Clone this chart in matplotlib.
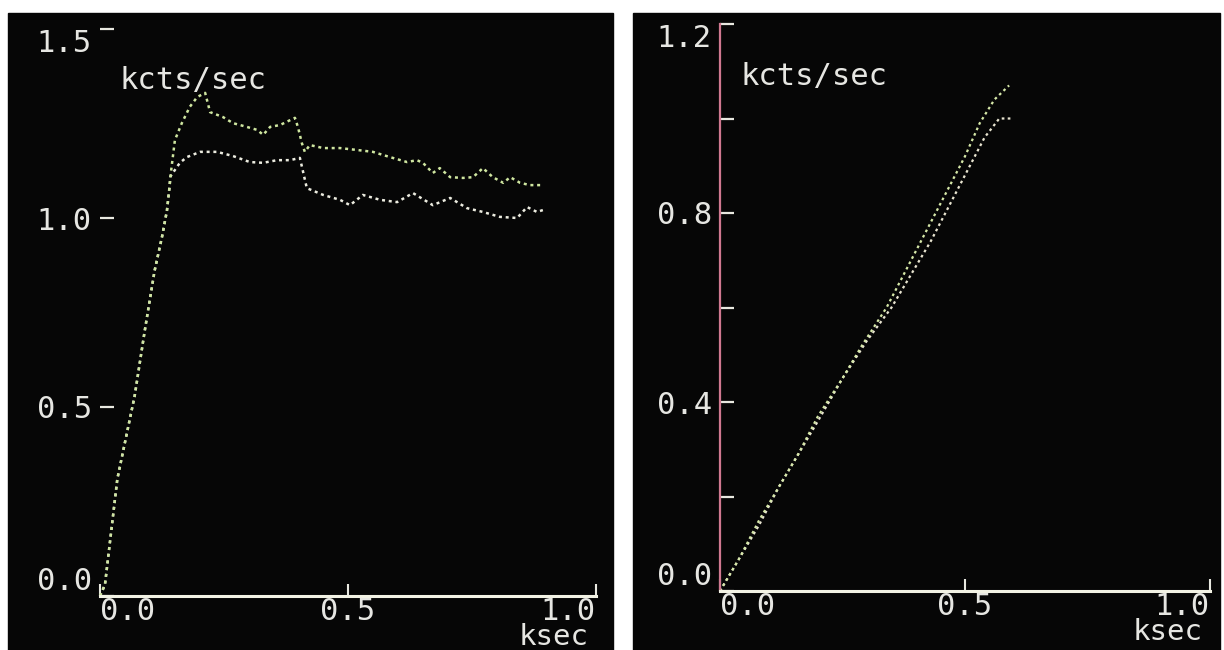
import matplotlib
matplotlib.use("Agg")
import matplotlib.pyplot as plt
from matplotlib.patches import Rectangle

# ---------------- data ----------------
# Left panel: two count-rate traces (kcts/sec vs ksec)
left_upper_x = [0.0, 0.01, 0.035, 0.07, 0.09, 0.11, 0.125, 0.135, 0.14, 0.142,
                0.151, 0.165, 0.181, 0.196, 0.212, 0.222, 0.248, 0.268, 0.296,
                0.317, 0.329, 0.343, 0.363, 0.393, 0.399, 0.407, 0.413, 0.423,
                0.450, 0.484, 0.518, 0.550, 0.585, 0.619, 0.639, 0.651, 0.671,
                0.685, 0.706, 0.732, 0.752, 0.772, 0.792, 0.813, 0.827, 0.847,
                0.867, 0.893]
left_upper_y = [0.0, 0.03, 0.31, 0.53, 0.70, 0.86, 0.95, 1.02, 1.08, 1.11,
                1.206, 1.251, 1.294, 1.320, 1.331, 1.280, 1.267, 1.251, 1.241,
                1.233, 1.220, 1.241, 1.246, 1.265, 1.241, 1.198, 1.175, 1.193,
                1.185, 1.185, 1.180, 1.175, 1.161, 1.148, 1.153, 1.146, 1.119,
                1.132, 1.108, 1.106, 1.108, 1.132, 1.108, 1.093, 1.108, 1.093,
                1.087, 1.087]

left_lower_x = [0.0, 0.01, 0.035, 0.07, 0.09, 0.11, 0.125, 0.135, 0.14, 0.142,
                0.161, 0.175, 0.202, 0.236, 0.268, 0.302, 0.329, 0.357, 0.383,
                0.403, 0.417, 0.450, 0.484, 0.504, 0.530, 0.565, 0.599, 0.631,
                0.671, 0.706, 0.740, 0.772, 0.806, 0.841, 0.861, 0.881, 0.893]
left_lower_y = [0.0, 0.03, 0.31, 0.53, 0.70, 0.86, 0.95, 1.02, 1.08, 1.11,
                1.146, 1.161, 1.175, 1.175, 1.164, 1.148, 1.146, 1.153, 1.153,
                1.159, 1.079, 1.061, 1.048, 1.034, 1.061, 1.048, 1.042, 1.066,
                1.034, 1.053, 1.026, 1.016, 1.003, 1.000, 1.029, 1.016, 1.021]

# Right panel: two nearly coincident rising traces
right_a_x = [0.0, 0.04, 0.08, 0.12, 0.16, 0.20, 0.25, 0.29, 0.34, 0.38,
             0.42, 0.46, 0.50, 0.53, 0.56, 0.59]
right_a_y = [0.0, 0.07, 0.15, 0.22, 0.29, 0.37, 0.45, 0.52, 0.60, 0.68,
             0.76, 0.84, 0.92, 0.99, 1.04, 1.07]
right_b_x = [0.0, 0.04, 0.08, 0.12, 0.16, 0.20, 0.25, 0.30, 0.35, 0.39,
             0.43, 0.47, 0.51, 0.54, 0.57, 0.595]
right_b_y = [0.0, 0.07, 0.14, 0.22, 0.29, 0.36, 0.45, 0.53, 0.60, 0.67,
             0.74, 0.82, 0.90, 0.96, 1.00, 1.00]

x_ticks = [0.0, 0.5, 1.0]
x_tick_labels = ["0.0", "0.5", "1.0"]
left_y_ticks = [0.0, 0.5, 1.0, 1.5]
left_y_labels = ["0.0", "0.5", "1.0", "1.5"]
right_y_ticks = [0.0, 0.4, 0.8, 1.2]
right_y_labels = ["0.0", "0.4", "0.8", "1.2"]
right_y_minor = [0.2, 0.6, 1.0]
y_unit = "kcts/sec"
x_unit = "ksec"

# ---------------- style ----------------
W, H = 1224, 650
FONT = "DejaVu Sans Mono"
FS = 22
TXT = "#e6e6e2"
BG = "#060606"
DOT = (0, (1.2, 1.5))

fig = plt.figure(figsize=(W / 100, H / 100), dpi=100)
fig.patch.set_facecolor("white")

# black display panels (behind the axes)
fig.patches.append(Rectangle((8 / W, 0), (613 - 8) / W, (650 - 13) / H,
                             transform=fig.transFigure, color=BG, zorder=-10))
fig.patches.append(Rectangle((633 / W, 0), (1220 - 633) / W, (650 - 13) / H,
                             transform=fig.transFigure, color=BG, zorder=-10))

ax1 = fig.add_axes([100 / W, (650 - 596) / H, 496 / W, 567 / H])
ax2 = fig.add_axes([720 / W, (650 - 591) / H, 490 / W, 567 / H])


def style_axes(ax, ylim, yticks, ylabels, ycolor, show_yspine):
    ax.set_facecolor("none")
    ax.set_xlim(0, 1)
    ax.set_ylim(*ylim)
    for s in ("top", "right"):
        ax.spines[s].set_visible(False)
    ax.spines["bottom"].set_color("#f2f2e4")
    ax.spines["bottom"].set_linewidth(2.2)
    ax.spines["left"].set_visible(show_yspine)
    ax.spines["left"].set_color(ycolor)
    ax.spines["left"].set_linewidth(1.6)

    ax.set_xticks(x_ticks, x_tick_labels)
    ax.set_yticks(yticks, ylabels)
    ax.tick_params(axis="x", direction="in", length=9, width=1.5,
                   color="#e8e8e0", pad=1, labelsize=FS, labelcolor=TXT)
    ax.tick_params(axis="y", direction="in", length=10, width=1.6,
                   color="#e8e8e0", pad=6, labelsize=FS, labelcolor=TXT)
    for lab in ax.get_xticklabels() + ax.get_yticklabels():
        lab.set_fontfamily(FONT)
    xl = ax.get_xticklabels()
    xl[0].set_ha("left")
    xl[1].set_ha("center")
    xl[2].set_ha("right")
    yl = ax.get_yticklabels()
    yl[0].set_va("bottom")
    yl[-1].set_va("top")


style_axes(ax1, (0, 1.5), left_y_ticks, left_y_labels, BG, False)
style_axes(ax2, (0, 1.2), right_y_ticks, right_y_labels, "#d07890", True)
ax2.set_yticks(right_y_minor, minor=True)
ax2.tick_params(axis="y", which="minor", direction="in", length=10,
                width=1.6, color="#e8e8e0")

# traces (greenish trace drawn last so the shared rise looks green)
ax1.plot(left_lower_x, left_lower_y, color="#ecece0", lw=1.8, ls=DOT,
         clip_on=False)
ax1.plot(left_upper_x, left_upper_y, color="#cfe6a0", lw=1.8, ls=DOT,
         clip_on=False)
ax2.plot(right_b_x, right_b_y, color="#e8e4d0", lw=1.6, ls=DOT,
         clip_on=False)
ax2.plot(right_a_x, right_a_y, color="#d6e8a8", lw=1.6, ls=DOT,
         clip_on=False)

# unit labels
ax1.text(0.04, 0.91, y_unit, transform=ax1.transAxes, fontsize=FS,
         family=FONT, color=TXT, ha="left", va="center")
ax2.text(0.041, 0.908, y_unit, transform=ax2.transAxes, fontsize=FS,
         family=FONT, color=TXT, ha="left", va="center")
ax1.text(0.985, -0.086, x_unit, transform=ax1.transAxes, fontsize=FS - 1,
         family=FONT, color=TXT, ha="right", va="baseline")
ax2.text(0.984, -0.086, x_unit, transform=ax2.transAxes, fontsize=FS - 1,
         family=FONT, color=TXT, ha="right", va="baseline")

fig.savefig("out.png", dpi=100, facecolor="white")
